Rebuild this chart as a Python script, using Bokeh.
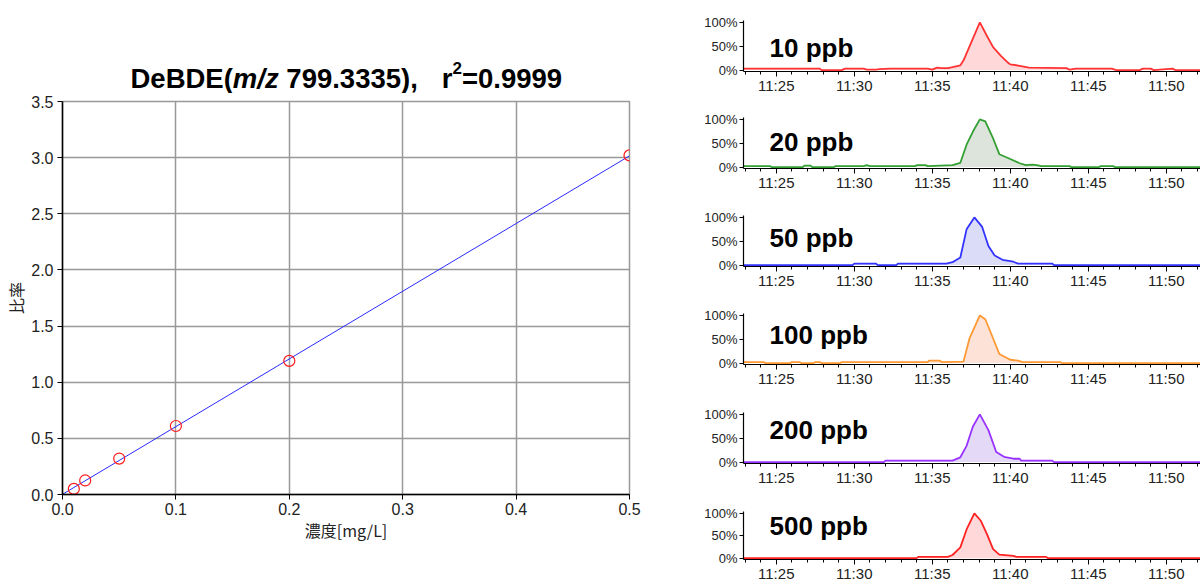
import numpy as np
from bokeh.plotting import figure
from bokeh.layouts import row, column
from bokeh.models import (FixedTicker, PrintfTickFormatter, Label, Range1d, Plot,
                          ColumnDataSource, Text)
from bokeh.core.properties import value
from bokeh.embed import file_html
from bokeh.resources import INLINE

# ---------------- calibration data ----------------
conc = [0.01, 0.02, 0.05, 0.1, 0.2, 0.5]
ratio = [0.05, 0.125, 0.32, 0.61, 1.19, 3.02]
x_ticks = [0.0, 0.1, 0.2, 0.3, 0.4, 0.5]
y_ticks = [0.0, 0.5, 1.0, 1.5, 2.0, 2.5, 3.0, 3.5]
title_parts = ["DeBDE(", "m/z", "799.3335),", "r", "2", "=0.9999"]

# ---------------- chromatogram data (minutes after 11:00, % intensity) ----------------
t1 = [22.9, 27.8, 27.9, 29.2, 29.4, 30.6, 30.8, 31.4, 31.6, 32.3, 32.4, 34.7, 35.0, 35.3, 35.6, 36.0,
      36.3, 36.8, 37.0, 37.5, 38.05, 38.5, 38.9, 39.4, 39.8, 40.0, 40.6, 41.2, 43.6, 43.8, 44.2, 46.5,
      46.8, 48.3, 48.5, 49.0, 49.2, 50.4, 50.6, 52.3]
v1 = [3, 3, 0, 0, 3, 3, 1, 1, 2, 3, 3, 3, 1, 5, 4, 4,
      6, 10, 20, 58, 100, 72, 48, 30, 17, 12, 9, 5, 4, 1, 3, 3,
      0, 0, 3, 3, 0, 3, 0, 0]
t2 = [22.9, 24.6, 24.7, 26.7, 26.8, 27.2, 27.3, 28.7, 28.8, 30.6, 30.8, 31.0, 33.9, 34.0, 34.6, 34.7,
      36.3, 36.8, 37.2, 37.6, 38.05, 38.4, 38.9, 39.3, 40.0, 40.6, 41.0, 41.4, 41.7, 42.0, 43.8, 43.9,
      45.7, 45.8, 46.6, 46.7, 52.3]
v2 = [2, 2, 0, 0, 3, 3, 0, 0, 2, 2, 4, 2, 2, 4, 4, 2,
      4, 9, 47, 74, 100, 96, 60, 27, 17, 8, 4, 5, 4, 2, 2, 0,
      0, 2, 2, 0, 0]
t3 = [22.9, 29.9, 30.0, 31.4, 31.5, 32.7, 32.8, 35.9, 36.3, 36.8, 37.2, 37.7, 38.2, 38.6, 39.0, 39.5,
      40.2, 40.5, 42.7, 42.8, 52.3]
v3 = [0, 0, 3, 3, 0, 0, 3, 3, 6, 16, 75, 100, 80, 40, 20, 11,
      7, 3, 3, 0, 0]
t4 = [22.9, 24.2, 24.3, 25.9, 26.0, 26.5, 26.6, 27.4, 27.5, 27.8, 27.9, 29.1, 29.2, 34.7, 34.8, 35.5,
      35.6, 37.0, 37.4, 38.05, 38.4, 38.8, 39.3, 40.0, 40.5, 40.8, 43.2, 43.3, 52.3]
v4 = [2, 2, 0, 0, 2, 2, 0, 0, 2, 2, 0, 0, 2, 2, 5, 5,
      2, 3, 53, 100, 92, 60, 19, 7, 5, 2, 2, 0, 0]
t5 = [22.9, 31.9, 32.0, 36.3, 36.8, 37.2, 37.6, 38.05, 38.6, 39.1, 39.6, 40.2, 40.6, 40.7, 42.7, 42.8, 52.3]
v5 = [0, 0, 3, 3, 10, 34, 74, 100, 67, 21, 11, 7, 7, 3, 3, 0, 0]
t6 = [22.9, 34.0, 34.1, 36.0, 36.3, 36.8, 37.2, 37.7, 38.1, 38.5, 38.9, 39.3, 40.2, 40.4, 42.3, 42.4, 52.3]
v6 = [0, 0, 3, 3, 7, 24, 64, 100, 84, 54, 20, 8, 5, 3, 3, 0, 0]

panel_labels = ["10 ppb", "20 ppb", "50 ppb", "100 ppb", "200 ppb", "500 ppb"]
label_levels = [46, 52, 56, 58, 68, 72]
line_colors = ["#ff3333", "#33a033", "#3333ff", "#ff9933", "#9933ff", "#ff2222"]
fill_colors = ["#ffd8da", "#dce4dc", "#dadcf8", "#fde2d8", "#e4daf8", "#ffd8da"]
time_ticks = [25, 30, 35, 40, 45, 50]
time_labels = ["11:25", "11:30", "11:35", "11:40", "11:45", "11:50"]
pct_ticks = [0, 50, 100]
pct_labels = ["0%", "50%", "100%"]

traces = [(t1, v1), (t2, v2), (t3, v3), (t4, v4), (t5, v5), (t6, v6)]

TICK_FONT = "Liberation Sans"
LEFT_W = 688
TOTAL_W = 1200
TOTAL_H = 584
TITLE_H = 93
FL, FR = 62, 629          # left plot frame edges (px)

# ---------------- title strip (mixed-style title), frame matched to the plot below ----------------
tf = Plot(width=LEFT_W, height=TITLE_H, x_range=Range1d(FL, FR), y_range=Range1d(0, TITLE_H),
          output_backend="svg", toolbar_location=None, title=None,
          min_border_left=FL, min_border_right=LEFT_W - FR, min_border_top=0, min_border_bottom=0,
          outline_line_color=None)
S = 27.5
styles = ["bold", "bold italic", "bold", "bold", "bold", "bold"]
sizes = [S, S, S, S, 17, S]
raises = [0, 0, 0, 0, 11, 0]
advance = [3722, 1667, 5059 - 278, 389, 556, 3642]
gaps = [0, 0, 278 * S / 1000.0, 24, 0, 0]
xo = 130.0
for txt, st, sz, dy, adv, g in zip(title_parts, styles, sizes, raises, advance, gaps):
    xo += g
    src = ColumnDataSource(dict(x=[xo], y=[15 + dy], text=[txt]))
    tf.add_glyph(src, Text(x="x", y="y", text="text", text_font=value("Liberation Sans"),
                           text_font_style=st, text_font_size=f"{sz}px", text_color="black",
                           text_align="left", text_baseline="alphabetic"))
    xo += adv * sz / 1000.0

# ---------------- left: calibration curve ----------------
p = figure(width=LEFT_W, height=TOTAL_H - TITLE_H, x_range=Range1d(0, 0.5), y_range=Range1d(0, 3.5),
           output_backend="svg", toolbar_location=None,
           min_border_left=FL, min_border_right=LEFT_W - FR, min_border_top=8,
           min_border_bottom=TOTAL_H - 494)
p.outline_line_color = "#999999"
p.outline_line_width = 1.5
p.background_fill_color = "white"
p.border_fill_color = "white"

p.xaxis.ticker = FixedTicker(ticks=x_ticks, minor_ticks=[])
p.yaxis.ticker = FixedTicker(ticks=y_ticks, minor_ticks=[])
p.xaxis.formatter = PrintfTickFormatter(format="%.1f")
p.yaxis.formatter = PrintfTickFormatter(format="%.1f")
for ax in (p.xaxis, p.yaxis):
    ax.axis_line_color = "black"
    ax.axis_line_width = 1.5
    ax.major_tick_line_color = "black"
    ax.major_tick_out = 5
    ax.major_tick_in = 0
    ax.major_label_text_font = TICK_FONT
    ax.major_label_text_font_size = "16px"
    ax.major_label_text_color = "#222222"
    ax.axis_label_text_font = "Noto Sans CJK JP"
    ax.axis_label_text_font_size = "16px"
    ax.axis_label_text_font_style = "normal"
    ax.axis_label_text_color = "#222222"
p.xaxis.major_label_standoff = 3
p.yaxis.major_label_standoff = 4
p.xaxis.axis_label = "濃度[mg/L]"
p.yaxis.axis_label = "比率"
p.xaxis.axis_label_standoff = 0
p.yaxis.axis_label_standoff = 0
p.grid.grid_line_color = "#999999"
p.grid.grid_line_width = 1.5

slope, intercept = np.polyfit(conc, ratio, 1)
fx = [0.0, 0.5]
fy = [intercept + slope * x for x in fx]
p.line(fx, fy, line_color="#2b2bff", line_width=1)
p.scatter(conc, ratio, marker="circle", size=11, fill_color=None, line_color="#ff1a1a", line_width=1.2)

left = column(tf, p)

# ---------------- right: chromatograms ----------------
RIGHT_W = TOTAL_W - LEFT_W
fig_heights = [105, 98, 98, 99, 100, 84]
top_borders = [20, 12, 12, 12, 12, 11]
FRAME_H = 51
panels = []
for i, ((tt, vv), lab, lvl, lc, fc) in enumerate(zip(traces, panel_labels, label_levels, line_colors, fill_colors)):
    h = fig_heights[i]
    tb = top_borders[i]
    f = figure(width=RIGHT_W, height=h, x_range=Range1d(22.9, 22.9 + (TOTAL_W - 743) / 15.6),
               y_range=Range1d(-3, 104),
               output_backend="svg", toolbar_location=None,
               min_border_left=743 - LEFT_W, min_border_right=0, min_border_top=tb,
               min_border_bottom=h - tb - FRAME_H)
    f.outline_line_color = None
    f.grid.visible = False
    f.background_fill_color = "white"
    f.border_fill_color = "white"
    f.varea(x=tt, y1=[0] * len(tt), y2=vv, fill_color=fc)
    f.line(tt, vv, line_color=lc, line_width=1.8)
    f.xaxis.ticker = FixedTicker(ticks=time_ticks, minor_ticks=list(range(23, 53)))
    f.xaxis.major_label_overrides = dict(zip(time_ticks, time_labels))
    f.yaxis.ticker = FixedTicker(ticks=pct_ticks, minor_ticks=[])
    f.yaxis.major_label_overrides = dict(zip(pct_ticks, pct_labels))
    for ax in (f.xaxis, f.yaxis):
        ax.axis_line_color = "black"
        ax.axis_line_width = 1.2
        ax.major_tick_line_color = "black"
        ax.minor_tick_line_color = "black"
        ax.major_tick_in = 0
        ax.minor_tick_in = 0
        ax.major_label_text_font = TICK_FONT
        ax.major_label_text_color = "#222222"
    f.xaxis.major_tick_out = 5
    f.xaxis.minor_tick_out = 3
    f.yaxis.major_tick_out = 4
    f.xaxis.major_label_text_font_size = "15px"
    f.yaxis.major_label_text_font_size = "13px"
    f.xaxis.major_label_standoff = 0
    f.yaxis.major_label_standoff = 2
    f.add_layout(Label(x=24.57, y=lvl, text=lab, text_font="Liberation Sans",
                       text_font_style="bold", text_font_size="26px", text_color="black",
                       text_align="left", text_baseline="alphabetic"))
    panels.append(f)

layout = row(left, column(*panels))
open("out.html", "w").write(file_html(layout, INLINE))
